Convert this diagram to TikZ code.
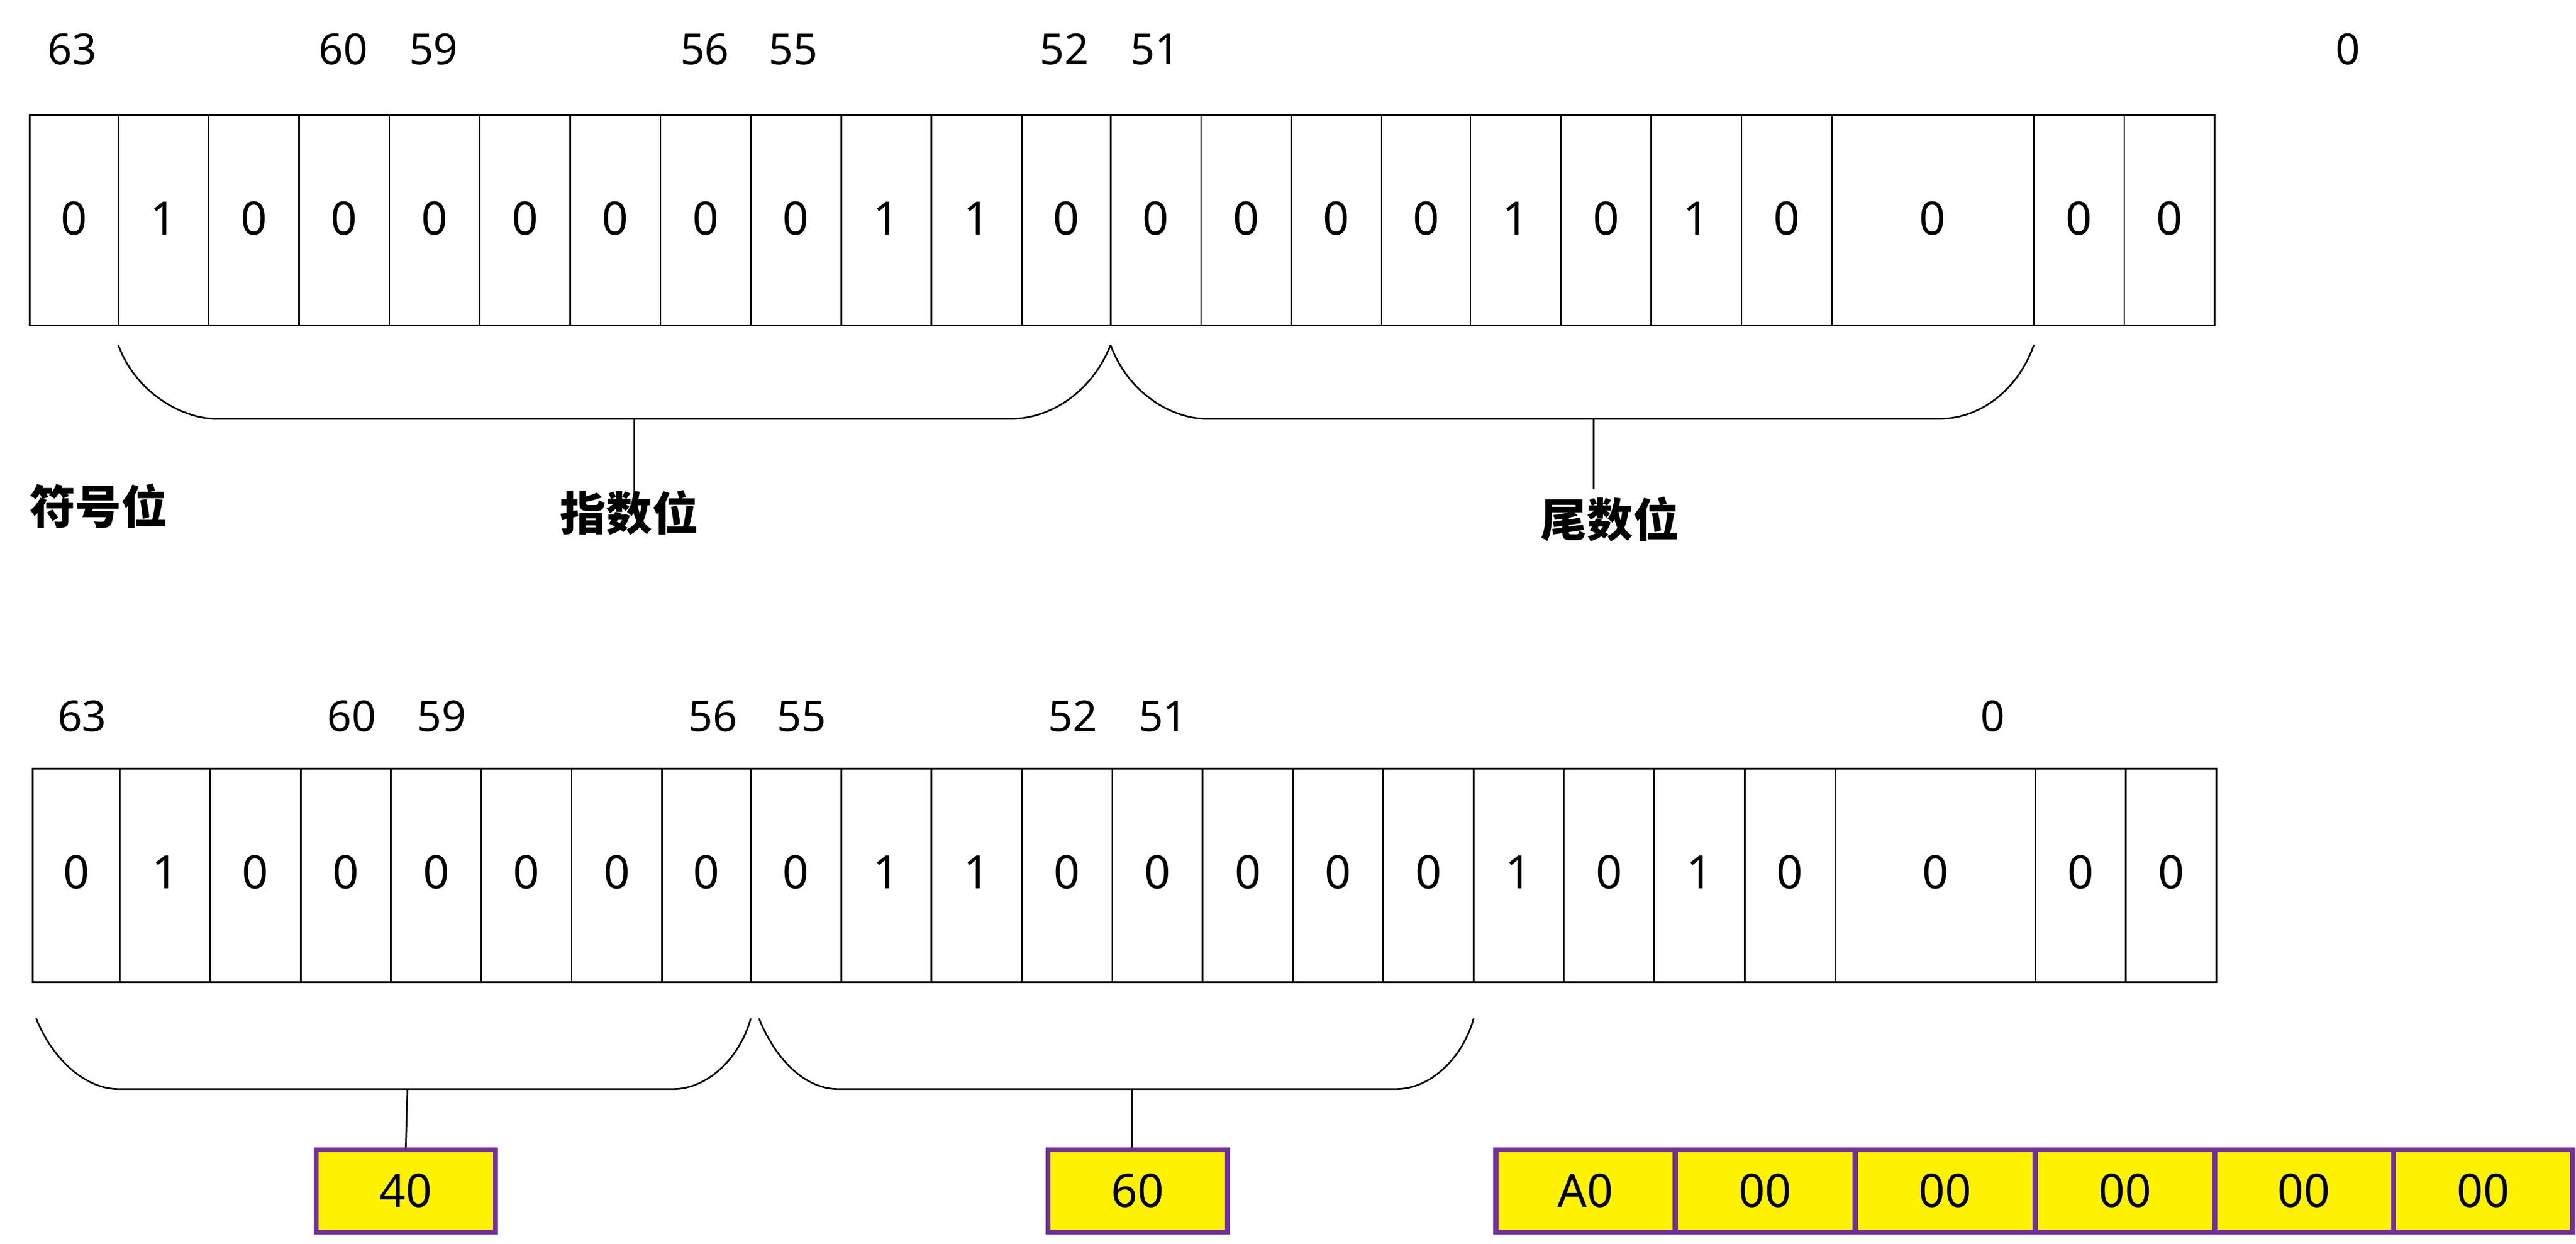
\documentclass[tikz,border=0pt]{standalone}
\usepackage{fontspec}
\setmainfont{Noto Sans}
\newfontfamily\cjk{Noto Sans CJK SC}
\definecolor{boxpurple}{RGB}{112,48,160}
\begin{document}
\begin{tikzpicture}[x={(0.5pt,0)},y={(0,-0.5pt)},
  bit/.style={font=\bfseries\fontsize{14}{16}\selectfont},
  lbl/.style={font=\bfseries\fontsize{13}{15}\selectfont},
  cn/.style={font=\cjk\bfseries\fontsize{14}{16}\selectfont},
  cellbox/.style={draw=black,line width=0.5pt},
  brace/.style={draw=black,line width=0.5pt},
  hexbox/.style={draw=boxpurple,fill=yellow,line width=1.5pt,minimum width=54.5pt,minimum height=25pt,inner sep=0pt,font=\bfseries\fontsize{14}{16}\selectfont}]
\useasboundingbox (0,0) rectangle (1568,757);
% top row
\def\xa{18,72,127,182,237,292,347,402,457,512,567,622,676,731,786,841,895,950,1005,1060,1115,1238,1293,1348,1403,1457}
\def\ba{0,1,0,0,0,0,0,0,0,1,1,0,0,0,0,0,1,0,1,0,...,0,0,0,0}
\foreach \l [count=\i] in \xa {\expandafter\xdef\csname ta\i\endcsname{\l}}
\foreach \b [count=\i] in \ba {
  \pgfmathtruncatemacro\j{\i+1}
  \edef\L{\csname ta\i\endcsname}\edef\R{\csname ta\j\endcsname}
  \draw[cellbox] (\L,70) rectangle (\R,198);
  \node[bit] (t\i) at ({(\L+\R)/2},133) {\b};
}
\foreach \t/\x in {63/44,60/209,59/264,56/429,55/483,52/648,51/703,0/1429}
  \node[lbl] (tl\t) at (\x,30) {\t};
\coordinate (s1) at (72,210); \coordinate (e1) at (676,210);
\coordinate (e2) at (1238,210);
\draw[brace] (s1) .. controls (82,238) and (110,255) .. (132,255) -- (615,255) .. controls (640,255) and (665,238) .. (e1);
\draw[brace] (e1) .. controls (686,238) and (712,255) .. (735,255) -- (1180,255) .. controls (1205,255) and (1228,238) .. (e2);
\coordinate (st1) at (386,255); \coordinate (st2) at (970,255);
\node[cn] (fh) at (60,308) {符号位};
\node[cn] (zs) at (383,312) {指数位};
\node[cn] (ws) at (980,316) {尾数位};
\draw[brace] (st1) -- (386,300);
\draw[brace] (st2) -- (970,298);
% bottom row
\def\xb{20,73,128,183,238,293,348,403,457,512,567,622,677,732,787,842,897,952,1007,1062,1117,1239,1294,1349,1404,1458}
\foreach \l [count=\i] in \xb {\expandafter\xdef\csname tb\i\endcsname{\l}}
\foreach \b [count=\i] in \ba {
  \pgfmathtruncatemacro\j{\i+1}
  \edef\L{\csname tb\i\endcsname}\edef\R{\csname tb\j\endcsname}
  \draw[cellbox] (\L,468) rectangle (\R,598);
  \node[bit] (b\i) at ({(\L+\R)/2},531) {\b};
}
\foreach \t/\x in {63/50,60/214,59/269,56/434,55/488,52/653,51/708,0/1213}
  \node[lbl] (bl\t) at (\x,436) {\t};
\coordinate (bs1) at (22,620); \coordinate (be1) at (457,620);
\coordinate (bs2) at (462,620); \coordinate (be2) at (897,620);
\draw[brace] (bs1) .. controls (32,645) and (52,663) .. (72,663) -- (410,663) .. controls (430,663) and (450,645) .. (be1);
\draw[brace] (bs2) .. controls (472,645) and (490,663) .. (510,663) -- (850,663) .. controls (870,663) and (890,645) .. (be2);
\node[hexbox] (h40) at (247,725) {40};
\node[hexbox] (h60) at (692.5,725) {60};
\draw[brace] (248,663) -- (h40.north);
\draw[brace] (689,663) -- (h60.north -| 689,0);
\foreach \v/\x [count=\i] in {A0/965,00/1074.5,00/1184,00/1293.5,00/1402.5,00/1511.5}
  \node[hexbox] (m\i) at (\x,725) {\v};
\end{tikzpicture}
\end{document}
